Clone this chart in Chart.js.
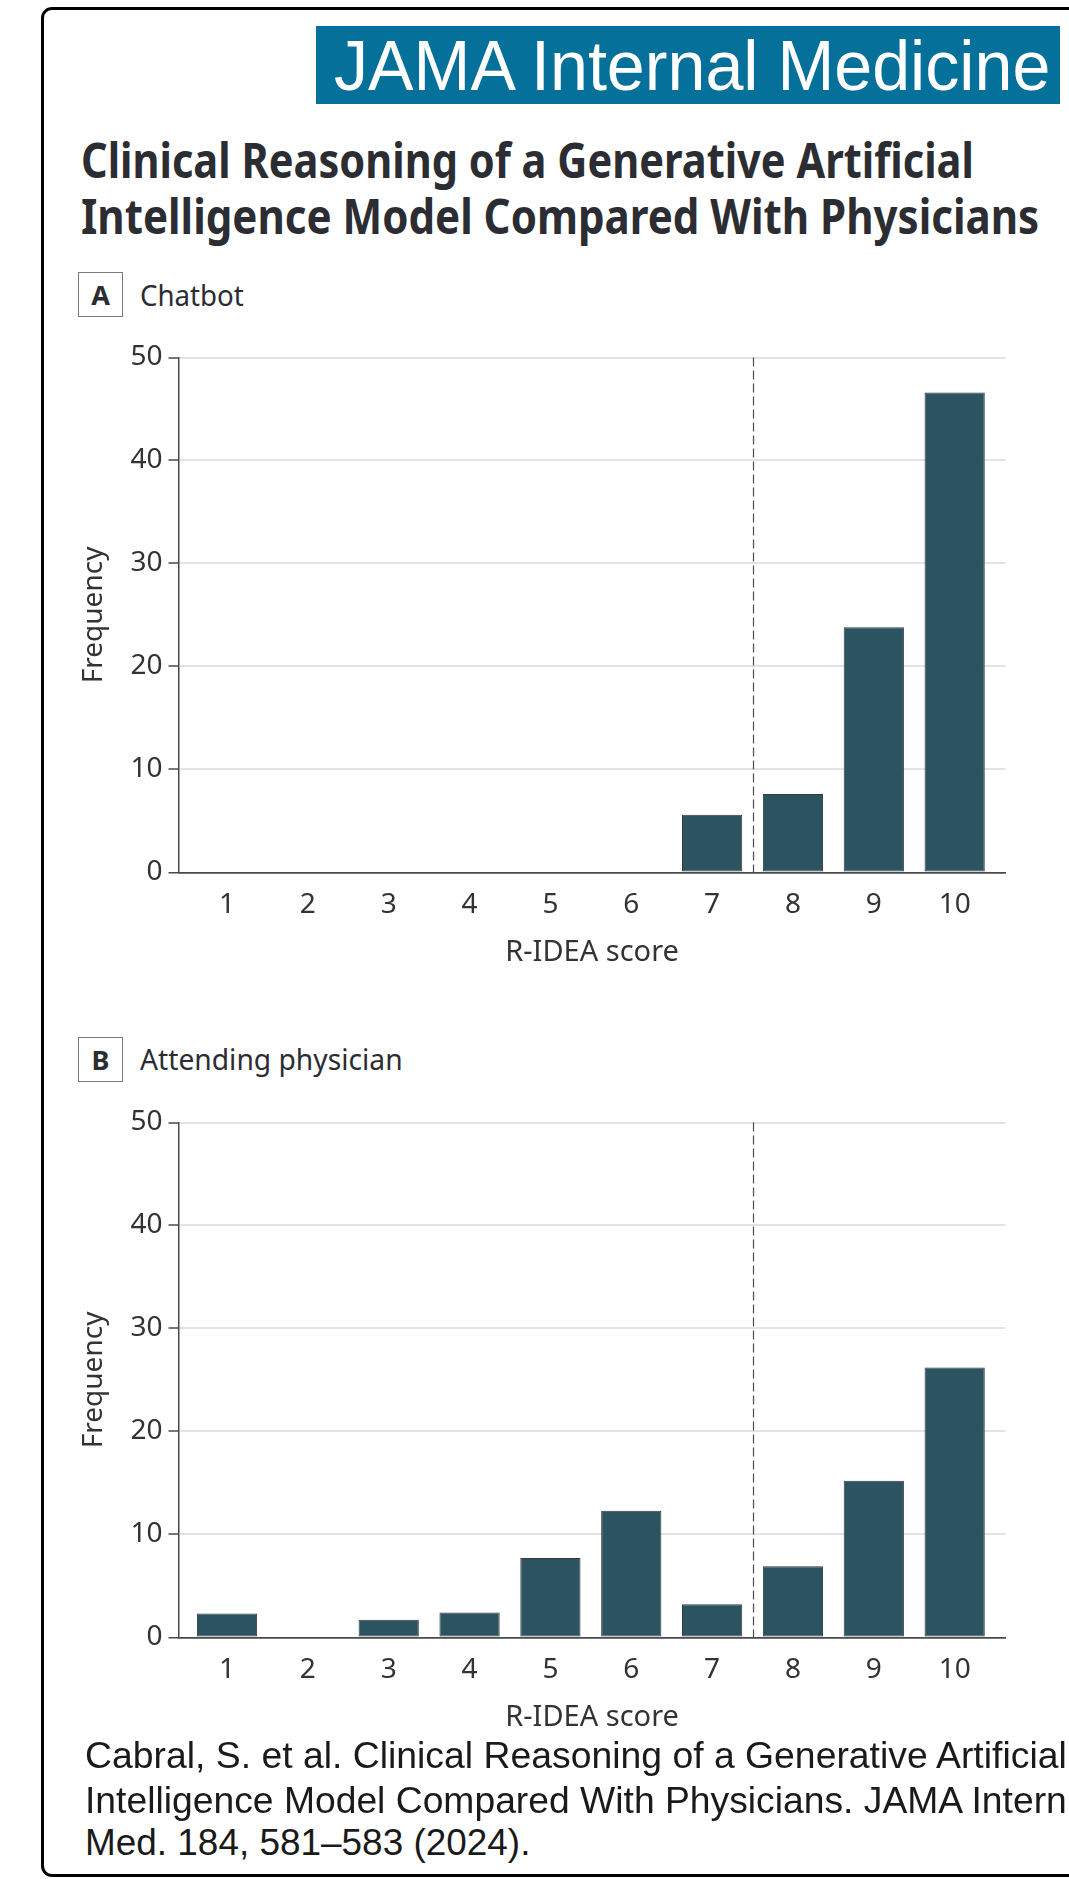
<!DOCTYPE html>
<html>
<head>
<meta charset="utf-8">
<script src="https://cdn.jsdelivr.net/npm/chart.js@4.4.1/dist/chart.umd.min.js"></script>
<style>
  html, body { margin:0; padding:0; background:#fff; }
  body { width:1069px; height:1879px; position:relative; overflow:hidden; }
  .abs { position:absolute; white-space:nowrap; }
  .fit > span { display:inline-block; transform-origin:0 0; }
  #frame { position:absolute; left:41px; top:7px; width:1200px; height:1870px; box-sizing:border-box;
           border:3.5px solid #000; border-radius:11px; }
  #banner { position:absolute; left:316px; top:26px; width:744px; height:78px; background:#05709a; }
  .banner-txt { font-family:'Liberation Sans', Arial, sans-serif; font-size:70px; line-height:70px; color:#fff; }
  .title { font-family:'Noto Sans', sans-serif; font-weight:700; font-size:49px; line-height:49px; color:#2b2d33; }
  .panel { font-family:'Noto Sans', sans-serif; font-size:29px; line-height:29px; color:#2b2d33; }
  .pbox { position:absolute; width:45px; height:45px; box-sizing:border-box; border:1.5px solid #7a7a7a; }
  .pletter { font-family:'Noto Sans', sans-serif; font-weight:700; font-size:27px; line-height:27px; color:#2b2d33; width:45px; text-align:center; }
  .cite { font-family:'Liberation Sans', Arial, sans-serif; font-size:37px; line-height:37px; color:#1a1a1a; }
  canvas { position:absolute; left:0; }
</style>
</head>
<body>
<div id="frame"></div>
<div id="banner"></div>
<div class="abs fit banner-txt" data-w="716" style="left:334px; top:30.7px;"><span>JAMA Internal Medicine</span></div>

<div class="abs fit title" data-w="893" style="left:80.5px; top:134.8px;"><span>Clinical Reasoning of a Generative Artificial</span></div>
<div class="abs fit title" data-w="958" style="left:80.5px; top:190.8px;"><span>Intelligence Model Compared With Physicians</span></div>

<div class="pbox" style="left:78px; top:272px;"></div>
<div class="abs pletter" style="left:78px; top:281.0px;">A</div>
<div class="abs fit panel" data-w="104" style="left:140px; top:280.0px;"><span>Chatbot</span></div>

<div class="pbox" style="left:78px; top:1037px;"></div>
<div class="abs pletter" style="left:78px; top:1046.0px;">B</div>
<div class="abs fit panel" data-w="262.7" style="left:140px; top:1044.3px;"><span>Attending physician</span></div>

<canvas id="chartA" width="1069" height="700" style="top:300px; width:1069px; height:700px;"></canvas>
<canvas id="chartB" width="1069" height="700" style="top:1065px; width:1069px; height:700px;"></canvas>

<div class="abs fit cite" data-w="982" style="left:85px; top:1737.0px;"><span>Cabral, S. et al. Clinical Reasoning of a Generative Artificial</span></div>
<div class="abs fit cite" data-w="982" style="left:85px; top:1782.0px;"><span>Intelligence Model Compared With Physicians. JAMA Intern</span></div>
<div class="abs fit cite" data-w="445" style="left:85px; top:1823.7px;"><span>Med. 184, 581–583 (2024).</span></div>

<script>
// ---- data ----
const scoreLabels = [1, 2, 3, 4, 5, 6, 7, 8, 9, 10];
const chatbotFreq = [0, 0, 0, 0, 0, 0, 5.6, 7.6, 23.8, 46.6];
const physicianFreq = [2.3, 0, 1.7, 2.4, 7.7, 12.3, 3.2, 6.9, 15.2, 26.2];
const yTickValues = [0, 10, 20, 30, 40, 50];
const cutoffScore = 7.5;
const xAxisTitle = 'R-IDEA score';
const yAxisTitle = 'Frequency';

// ---- fit text widths ----
document.querySelectorAll('.fit').forEach(el => {
  const span = el.querySelector('span');
  const w = span.offsetWidth;
  const target = parseFloat(el.dataset.w);
  if (w > 0) span.style.transform = 'scaleX(' + (target / w) + ')';
});

Chart.defaults.font.family = "'Noto Sans', sans-serif";

const cutoffPlugin = {
  id: 'cutoff',
  beforeDatasetsDraw(chart) {
    const { ctx, chartArea, scales: { x } } = chart;
    const px = Math.round(x.getPixelForValue(cutoffScore)) + 0.5;
    ctx.save();
    ctx.strokeStyle = '#4d4d4d';
    ctx.lineWidth = 1.2;
    ctx.setLineDash([9, 4]);
    ctx.beginPath();
    ctx.moveTo(px, chartArea.top);
    ctx.lineTo(px, chartArea.bottom);
    ctx.stroke();
    ctx.restore();
  }
};

function makeChart(id, values) {
  const axisDark = '#4a4a4a';
  return new Chart(document.getElementById(id), {
    type: 'bar',
    data: {
      datasets: [{
        data: scoreLabels.map((s, i) => ({ x: s, y: values[i] })),
        backgroundColor: '#2b5360',
        borderColor: '#343a3e',
        borderWidth: 1,
        borderSkipped: false,
        categoryPercentage: 1,
        barPercentage: 0.745
      }]
    },
    options: {
      responsive: false,
      animation: false,
      devicePixelRatio: 1,
      layout: { padding: { left: 0, right: 63.4, top: 57.5, bottom: 0 } },
      plugins: { legend: { display: false }, tooltip: { enabled: false } },
      scales: {
        x: {
          type: 'linear',
          min: 0.4,
          max: 10.63,
          offset: false,
          grid: { display: false, drawTicks: false },
          border: { display: true, color: axisDark, width: 1.5 },
          ticks: {
            stepSize: 1, includeBounds: false, autoSkip: false, maxRotation: 0,
            padding: 16, color: '#333',
            font: { size: 28 }
          },
          afterBuildTicks: s => { s.ticks = scoreLabels.map(v => ({ value: v })); },
          title: {
            display: true, text: xAxisTitle, color: '#333',
            font: { size: 29 }, padding: { top: 0, bottom: 29.6 }
          },
          afterFit: s => { s.height = 127.7; }
        },
        y: {
          min: 0,
          max: 50,
          ticks: { stepSize: 10, padding: 6, color: '#333', font: { size: 28 } },
          afterBuildTicks: s => { s.ticks = yTickValues.map(v => ({ value: v })); },
          grid: {
            color: c => (c.tick && c.tick.value === 0) ? axisDark : '#e3e3e3',
            lineWidth: c => (c.tick && c.tick.value === 0) ? 1.5 : 2,
            tickColor: axisDark,
            tickLength: 10,
            tickWidth: 1.5,
            drawTicks: true
          },
          border: { display: true, color: axisDark, width: 1.5 },
          title: {
            display: true, text: yAxisTitle, color: '#333',
            font: { size: 28 }, padding: { top: 77.6, bottom: 0 }
          },
          afterFit: s => { s.width = 178.5; }
        }
      }
    },
    plugins: [cutoffPlugin]
  });
}

makeChart('chartA', chatbotFreq);
makeChart('chartB', physicianFreq);
</script>
</body>
</html>
